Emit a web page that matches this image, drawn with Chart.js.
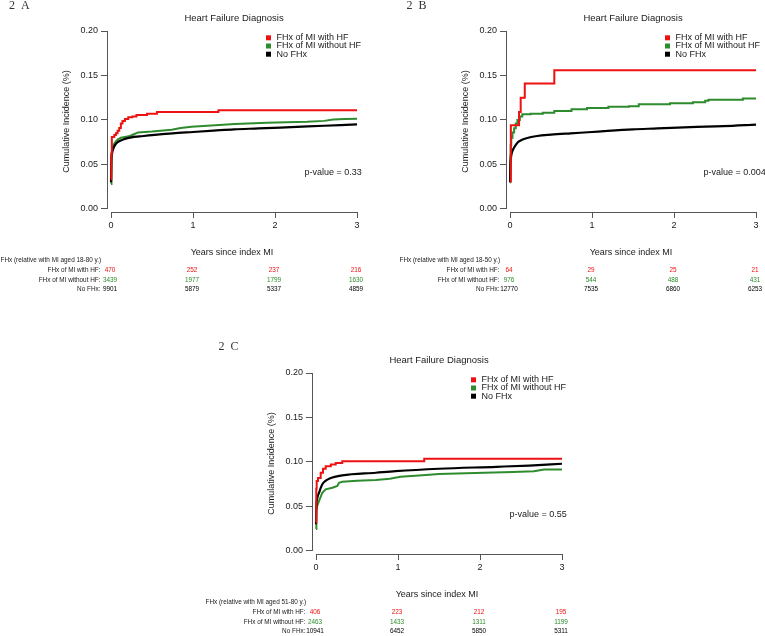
<!DOCTYPE html>
<html><head><meta charset="utf-8">
<script src="https://cdn.jsdelivr.net/npm/chart.js@4.4.1/dist/chart.umd.min.js"></script>
<style>
html,body{margin:0;padding:0;background:#fff;overflow:hidden;}
#wrap{position:relative;width:765px;height:636px;background:#fff;}
canvas{position:absolute;}
</style></head><body>
<div id="wrap">
<canvas id="cA" width="380" height="300" style="left:0px;top:0px"></canvas>
<canvas id="cB" width="366" height="300" style="left:399px;top:0px"></canvas>
<canvas id="cC" width="380" height="294" style="left:205px;top:342px"></canvas>
</div>
<script>
// ---------- data ----------
const seriesNames = ['FHx of MI with HF', 'FHx of MI without HF', 'No FHx'];
const riskRowLabels = ['FHx of MI with HF:', 'FHx of MI without HF:', 'No FHx:'];
const yearTicks = [0, 1, 2, 3];
const incidenceTicks = [0, 0.05, 0.10, 0.15, 0.20];
const panelLabels = ['2  A', '2  B', '2  C'];
const panelTitle = 'Heart Failure Diagnosis';
const xTitle = 'Years since index MI';
const yTitle = 'Cumulative Incidence (%)';
const tableHeaders = ['FHx (relative with MI aged 18-80 y.)', 'FHx (relative with MI aged 18-50 y.)', 'FHx (relative with MI aged 51-80 y.)'];
const pValues = ['p-value = 0.33', 'p-value = 0.004', 'p-value = 0.55'];

// Panel A  [years, cumulative incidence]
const A_withHF = [[0,0.033],[0.004,0.062],[0.01,0.081],[0.04,0.083],[0.06,0.085],[0.08,0.088],[0.1,0.091],[0.12,0.096],[0.14,0.099],[0.17,0.101],[0.21,0.103],[0.26,0.104],[0.31,0.1055],[0.44,0.107],[0.56,0.109],[1.31,0.111],[3,0.111]];
const A_withoutHF = [[0,0.028],[0.003,0.05],[0.008,0.062],[0.015,0.068],[0.03,0.072],[0.05,0.075],[0.08,0.078],[0.12,0.08],[0.17,0.081],[0.23,0.082],[0.28,0.084],[0.33,0.086],[0.5,0.087],[0.74,0.089],[0.85,0.091],[0.98,0.0925],[1.27,0.094],[1.51,0.0955],[1.9,0.097],[2.39,0.098],[2.6,0.099],[2.71,0.1005],[2.85,0.101],[3,0.1015]];
const A_noFHx = [[0,0.03],[0.005,0.055],[0.012,0.062],[0.025,0.067],[0.05,0.072],[0.08,0.075],[0.12,0.077],[0.18,0.079],[0.25,0.0805],[0.35,0.0815],[0.5,0.083],[0.75,0.085],[1.0,0.0865],[1.25,0.088],[1.5,0.0895],[1.8,0.0905],[2.2,0.092],[2.6,0.0935],[3,0.095]];
const A_risk_withHF = [470, 252, 237, 216];
const A_risk_withoutHF = [3439, 1977, 1799, 1630];
const A_risk_noFHx = [9901, 5879, 5337, 4859];

// Panel B
const B_withHF = [[0,0.031],[0.01,0.094],[0.11,0.109],[0.13,0.125],[0.18,0.141],[0.54,0.156],[3,0.156]];
const B_withoutHF = [[0,0.03],[0.003,0.06],[0.008,0.072],[0.015,0.08],[0.03,0.086],[0.05,0.0906],[0.07,0.096],[0.09,0.1],[0.12,0.104],[0.15,0.1064],[0.25,0.107],[0.4,0.108],[0.54,0.11],[0.75,0.112],[0.94,0.1135],[1.2,0.115],[1.45,0.1155],[1.57,0.1176],[1.95,0.1187],[2.23,0.12],[2.38,0.1215],[2.42,0.1228],[2.84,0.1242],[3,0.1242]];
const B_noFHx = [[0,0.03],[0.005,0.05],[0.012,0.058],[0.025,0.064],[0.05,0.069],[0.09,0.0745],[0.13,0.077],[0.2,0.0795],[0.33,0.082],[0.5,0.0835],[0.74,0.085],[1.0,0.0865],[1.15,0.0875],[1.5,0.0895],[1.8,0.0905],[2.2,0.092],[2.6,0.093],[3,0.0948]];
const B_risk_withHF = [64, 29, 25, 21];
const B_risk_withoutHF = [976, 544, 488, 431];
const B_risk_noFHx = [12770, 7535, 6860, 6253];

// Panel C
const C_withHF = [[0,0.032],[0.003,0.07],[0.008,0.0786],[0.024,0.082],[0.057,0.088],[0.085,0.0924],[0.118,0.0953],[0.18,0.0972],[0.24,0.099],[0.32,0.1008],[1.32,0.1035],[3,0.1035]];
const C_withoutHF = [[0,0.0246],[0.004,0.045],[0.012,0.05],[0.037,0.0562],[0.077,0.0655],[0.118,0.0693],[0.2,0.0711],[0.26,0.073],[0.28,0.0767],[0.32,0.0778],[0.5,0.079],[0.73,0.0797],[0.9,0.0812],[1.03,0.0834],[1.3,0.085],[1.5,0.0864],[2.05,0.088],[2.4,0.0887],[2.66,0.0897],[2.78,0.0916],[3,0.0916]];
const C_noFHx = [[0,0.03],[0.005,0.052],[0.012,0.058],[0.037,0.0655],[0.077,0.0749],[0.12,0.079],[0.16,0.0812],[0.32,0.0849],[0.73,0.0879],[0.97,0.0897],[1.5,0.0924],[2.2,0.0946],[2.6,0.096],[3,0.098]];
const C_risk_withHF = [406, 223, 212, 195];
const C_risk_withoutHF = [2463, 1433, 1311, 1199];
const C_risk_noFHx = [10941, 6452, 5850, 5311];

// ---------- styling ----------
const RED = '#EE1111', GREEN = '#2E8B2E', BLACK = '#000000', AXIS = '#555555', TXT = '#1a1a1a';
const SANS = '"Liberation Sans", Arial, Helvetica, sans-serif';
const SERIF = '"Liberation Serif", "Times New Roman", serif';
Chart.defaults.font.family = SANS;
Chart.defaults.font.size = 9;
Chart.defaults.color = TXT;

const decor = {
  id: 'decor',
  afterDraw(chart, args, o) {
    const {ctx, chartArea: ca, scales: {x, y}} = chart;
    const ax = Math.round(ca.left) + 0.5;
    const x0 = x.getPixelForValue(0), x3 = x.getPixelForValue(3);
    const y0 = y.getPixelForValue(0), y20 = y.getPixelForValue(0.2);
    const xb = Math.round(ca.bottom) + 0.5;
    ctx.save();
    ctx.strokeStyle = AXIS; ctx.lineWidth = 1;
    ctx.beginPath();
    ctx.moveTo(ax, y0); ctx.lineTo(ax, y20);
    ctx.moveTo(x0, xb); ctx.lineTo(x3, xb);
    ctx.stroke();
    ctx.fillStyle = TXT; ctx.textBaseline = 'middle'; ctx.textAlign = 'center';
    ctx.font = '9.5px ' + SANS;
    ctx.fillText(panelTitle, (x0 + x3) / 2, ca.top - 13);
    ctx.textAlign = 'left';
    ctx.font = '12px ' + SERIF;
    ctx.fillStyle = '#333';
    ctx.fillText(o.label, o.labelX, o.labelY);
    ctx.font = '9px ' + SANS;
    const cols = [RED, GREEN, BLACK];
    seriesNames.forEach((t, i) => {
      const cy = ca.top + 6.8 + i * 8.2;
      ctx.fillStyle = cols[i];
      ctx.fillRect(ax + 158.5, cy - 2.5, 5, 5);
      ctx.fillStyle = TXT;
      ctx.fillText(t, ax + 169, cy);
    });
    ctx.fillText(o.p, ax + 197, y0 - 36);
    ctx.font = '6.4px ' + SANS;
    ctx.fillStyle = TXT;
    ctx.fillText(o.header, 0.5, ca.bottom + 48);
    o.risk.forEach((row, i) => {
      const ry = ca.bottom + 58 + i * 9.8;
      ctx.textAlign = 'right'; ctx.fillStyle = TXT;
      ctx.fillText(riskRowLabels[i], ax - 7, ry);
      ctx.textAlign = 'center'; ctx.fillStyle = cols[i];
      row.forEach((v, j) => ctx.fillText(String(v), x.getPixelForValue(yearTicks[j]) - 1, ry));
    });
    ctx.restore();
  }
};

const pts = arr => arr.map(([t, v]) => ({x: t, y: v}));

function makePanel(id, p) {
  const cv = document.getElementById(id);
  const W = cv.width, H = cv.height;
  new Chart(cv.getContext('2d'), {
    type: 'line',
    data: {
      datasets: [
        {label: seriesNames[0], data: pts(p.red), borderColor: RED, borderWidth: 2, stepped: true, pointRadius: 0, fill: false},
        {label: seriesNames[2], data: pts(p.black), borderColor: BLACK, borderWidth: 2.2, stepped: false, cubicInterpolationMode: 'monotone', pointRadius: 0, fill: false},
        {label: seriesNames[1], data: pts(p.green), borderColor: GREEN, borderWidth: 2, stepped: p.greenStepped, pointRadius: 0, fill: false}
      ]
    },
    options: {
      responsive: false, animation: false, events: [],
      layout: {padding: {left: 56, top: 31, right: W - 357, bottom: H - 212 - 52}},
      plugins: {legend: {display: false}, tooltip: {enabled: false}, decor: p.opts},
      scales: {
        x: {
          type: 'linear', min: -0.049, max: 3,
          afterFit: s => { s.height = 52; },
          afterBuildTicks: s => { s.ticks = yearTicks.map(v => ({value: v})); },
          ticks: {padding: 2, color: TXT, font: {size: 9}, callback: v => String(v)},
          grid: {drawOnChartArea: false, drawTicks: true, tickLength: 6, color: AXIS, tickColor: AXIS},
          border: {display: false},
          title: {display: true, text: xTitle, color: TXT, font: {size: 9}, padding: {top: 4, bottom: 5.6}}
        },
        y: {
          type: 'linear', min: -0.0034, max: 0.2,
          afterFit: s => { s.width = 51; },
          afterBuildTicks: s => { s.ticks = incidenceTicks.map(v => ({value: v})); },
          ticks: {padding: 3, color: TXT, font: {size: 9}, callback: v => Number(v).toFixed(2)},
          grid: {drawOnChartArea: false, drawTicks: true, tickLength: 6, color: AXIS, tickColor: AXIS},
          border: {display: false},
          title: {display: true, text: yTitle, color: TXT, font: {size: 9}, padding: {top: 5, bottom: 0}}
        }
      }
    },
    plugins: [decor]
  });
}

makePanel('cA', {red: A_withHF, green: A_withoutHF, black: A_noFHx, greenStepped: false,
  opts: {label: panelLabels[0], labelX: 9, labelY: 6, header: tableHeaders[0], p: pValues[0], risk: [A_risk_withHF, A_risk_withoutHF, A_risk_noFHx]}});
makePanel('cB', {red: B_withHF, green: B_withoutHF, black: B_noFHx, greenStepped: true,
  opts: {label: panelLabels[1], labelX: 7.5, labelY: 5.5, header: tableHeaders[1], p: pValues[1], risk: [B_risk_withHF, B_risk_withoutHF, B_risk_noFHx]}});
makePanel('cC', {red: C_withHF, green: C_withoutHF, black: C_noFHx, greenStepped: false,
  opts: {label: panelLabels[2], labelX: 13.5, labelY: 4.5, header: tableHeaders[2], p: pValues[2], risk: [C_risk_withHF, C_risk_withoutHF, C_risk_noFHx]}});
</script>
</body></html>
